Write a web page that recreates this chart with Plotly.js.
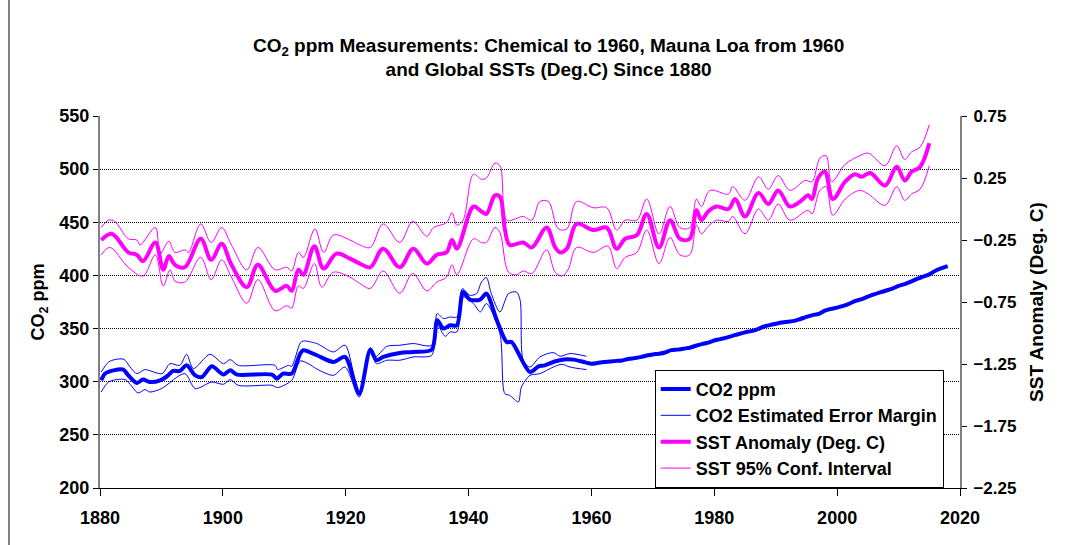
<!DOCTYPE html>
<html>
<head>
<meta charset="utf-8">
<script src="https://cdn.plot.ly/plotly-3.0.1.min.js"></script>
<style>
html,body{margin:0;padding:0;background:#fff;}
#chart{width:1082px;height:545px;}
</style>
</head>
<body>
<div id="chart"></div>
<script>
// ---- CO2 chemical measurements (ppm), thick line ----
var co2ChemYears = [1880.2,1880.8,1882.2,1883.8,1884.6,1886.0,1887.0,1888.1,1889.8,1891.1,
  1891.9,1893.0,1894.1,1895.5,1896.6,1898.2,1900.1,1901.2,1902.3,1908.0,
  1908.8,1909.8,1911.2,1912.6,1913.1,1915.3,1918.0,1919.9,1922.2,1924.0,
  1925.0,1926.1,1928.8,1931.0,1934.0,1934.9,1935.9,1937.0,1938.1,1939.1,
  1940.2,1941.9,1942.9,1944.6,1946.2,1947.0,1950.0,1951.4,1952.4,1954.0,
  1955.5,1957.1,1959.0];
var co2Chem = [301.3,307.6,310.7,311.4,306.0,298.8,302.0,299.7,301.3,306.0,
  310.1,310.1,315.4,306.0,304.4,314.5,306.7,310.7,306.7,306.7,
  302.9,307.6,307.6,326.5,329.6,324.9,318.6,323.3,288.8,330.2,
  320.2,323.3,327.0,328.0,330.2,357.8,350.0,353.1,353.1,384.4,
  377.3,377.3,382.9,357.8,337.4,337.4,309.1,314.5,315.4,319.0,
  321.0,320.8,318.2];

// ---- CO2 Mauna Loa (ppm) ----
var co2MLYears = [1960,1961,1962,1963,1964,1965,1966,1967,1968,1969,
  1970,1971,1972,1973,1974,1975,1976,1977,1978,1979,
  1980,1981,1982,1983,1984,1985,1986,1987,1988,1989,
  1990,1991,1992,1993,1994,1995,1996,1997,1998,1999,
  2000,2001,2002,2003,2004,2005,2006,2007,2008,2009,
  2010,2011,2012,2013,2014,2015,2016,2017,2018];
var co2ML = [316.9,317.6,318.5,319.0,319.6,320.0,321.4,322.2,323.1,324.6,
  325.7,326.3,327.5,329.7,330.2,331.1,332.0,333.8,335.4,336.8,
  338.8,340.1,341.5,343.2,344.9,346.4,347.6,349.3,351.7,353.2,
  354.5,355.7,356.5,357.2,359.0,361.0,362.7,363.9,366.8,368.5,
  369.7,371.3,373.5,376.0,377.7,380.0,382.1,384.0,385.8,387.6,
  390.1,391.9,394.1,396.7,398.8,401.0,404.4,406.8,408.7];

// ---- CO2 estimated error margin (ppm) ----
var co2UpYears = [1880.2,1881.4,1882.4,1883.9,1884.9,1886.0,1887.3,1890.1,1891.4,1893.0,
  1894.1,1895.2,1897.9,1900.1,1901.2,1902.5,1908.5,1908.9,1910.7,1911.2,
  1912.6,1913.1,1915.3,1918.0,1919.9,1922.2,1924.0,1924.8,1926.7,1928.8,
  1931.0,1934.0,1934.9,1935.9,1937.0,1938.1,1939.0,1940.2,1941.3,1942.1,
  1942.9,1943.7,1945.1,1946.5,1947.8,1948.4,1948.9,1950.0,1951.6,1953.8,
  1954.9,1956.5,1959.2];
var co2Up = [309.1,318.6,320.8,321.1,313.8,307.6,311.4,307.6,317.0,315.4,
  325.8,312.3,325.8,317.0,320.8,315.4,315.4,311.4,315.4,314.5,
  336.4,338.3,335.9,328.0,334.3,287.2,332.1,323.3,333.3,334.3,
  335.9,334.3,364.1,359.4,360.9,360.9,387.6,381.3,382.9,393.8,
  398.0,382.9,365.6,382.9,384.4,376.6,320.2,313.8,323.3,327.4,
  323.9,326.5,323.9];
var co2LoYears = [1880.2,1881.4,1884.1,1886.2,1887.3,1888.1,1890.0,1893.8,1895.5,1898.2,
  1900.1,1901.2,1902.5,1908.0,1908.9,1911.2,1912.6,1913.9,1915.3,1918.0,
  1919.9,1922.2,1924.0,1925.0,1926.7,1928.8,1931.0,1934.0,1934.9,1936.2,
  1937.0,1938.1,1939.1,1940.8,1941.9,1942.9,1945.1,1945.9,1946.7,1948.1,
  1948.6,1950.0,1951.6,1953.8,1955.2,1956.5,1959.2];
var co2Lo = [290.3,299.7,302.0,289.4,292.6,290.3,293.5,307.6,293.5,299.7,
  297.6,302.0,296.6,296.6,294.5,301.3,319.5,317.0,312.0,306.0,
  313.8,285.6,328.0,317.0,320.2,320.2,323.3,324.9,353.1,342.7,
  346.8,346.8,379.7,373.5,365.6,373.5,345.3,288.8,287.2,280.9,
  295.0,306.0,307.6,313.8,316.4,313.8,311.4];

// ---- Global SST anomaly (deg C) ----
var sstYears = [1880.2,1881.9,1884.6,1886.0,1887.0,1889.0,1890.3,1891.2,1892.2,1893.8,
  1896.4,1898.1,1899.8,1901.4,1903.9,1905.7,1908.5,1910.4,1911.2,1912.3,
  1913.1,1914.9,1916.4,1918.5,1920.7,1922.3,1924.0,1926.1,1928.8,1931.0,
  1933.2,1934.8,1936.4,1937.3,1938.1,1940.8,1942.1,1942.9,1944.3,1945.1,
  1945.9,1946.7,1948.9,1950.3,1952.7,1954.1,1954.9,1956.0,1957.6,1960.3,
  1962.5,1964.1,1965.5,1967.4,1969.0,1971.0,1972.8,1974.4,1976.0,1977.1,
  1977.9,1979.0,1980.4,1982.3,1983.4,1985.0,1987.2,1988.8,1990.4,1992.3,
  1994.0,1995.3,1995.9,1996.9,1998.0,1999.3,2001.3,2002.9,2004.0,2005.4,
  2007.8,2009.7,2011.0,2012.1,2013.5,2015.0];
var sst = [-0.25,-0.20,-0.35,-0.37,-0.42,-0.27,-0.49,-0.38,-0.45,-0.47,
  -0.24,-0.41,-0.28,-0.45,-0.63,-0.45,-0.66,-0.62,-0.66,-0.49,
  -0.53,-0.30,-0.48,-0.36,-0.40,-0.44,-0.47,-0.32,-0.47,-0.32,
  -0.44,-0.37,-0.35,-0.25,-0.32,0.02,-0.02,-0.04,0.11,0.10,
  -0.16,-0.29,-0.27,-0.31,-0.15,-0.31,-0.35,-0.32,-0.12,-0.17,
  -0.15,-0.32,-0.24,-0.21,-0.04,-0.31,-0.09,-0.24,-0.24,-0.01,
  -0.09,-0.02,0.02,0.00,0.08,-0.06,0.13,0.04,0.15,0.02,
  0.06,0.11,0.08,0.25,0.30,0.08,0.22,0.28,0.26,0.29,
  0.19,0.34,0.23,0.30,0.34,0.53];

// ---- SST 95% confidence interval (deg C) ----
var sstUpYears = [1880.2,1881.4,1882.4,1884.6,1886.0,1886.5,1889.0,1889.8,1891.2,1892.2,
  1893.8,1894.4,1896.4,1898.1,1899.8,1901.4,1903.9,1905.7,1908.5,1910.4,
  1911.2,1912.3,1913.1,1915.0,1916.4,1918.0,1920.7,1922.3,1924.0,1926.1,
  1928.8,1930.9,1933.2,1934.3,1936.4,1937.3,1938.1,1939.1,1940.8,1942.1,
  1942.9,1944.3,1945.1,1946.2,1947.6,1948.9,1950.3,1951.6,1953.0,1954.6,
  1956.0,1957.6,1960.3,1962.5,1964.1,1965.5,1967.4,1969.0,1971.0,1972.8,
  1974.4,1976.0,1977.1,1977.9,1979.3,1982.3,1983.0,1985.0,1987.2,1988.8,
  1990.4,1992.3,1994.8,1995.9,1997.2,1998.2,1999.1,2001.3,2003.7,2005.1,
  2007.8,2009.7,2011.0,2012.1,2013.5,2015.0];
var sstUp = [-0.15,-0.09,-0.10,-0.24,-0.25,-0.29,-0.15,-0.36,-0.26,-0.35,
  -0.33,-0.35,-0.12,-0.27,-0.15,-0.29,-0.49,-0.31,-0.49,-0.47,
  -0.50,-0.35,-0.39,-0.16,-0.35,-0.21,-0.25,-0.29,-0.31,-0.12,
  -0.27,-0.10,-0.22,-0.15,-0.11,-0.03,-0.13,-0.09,0.28,0.24,
  0.25,0.37,0.35,-0.09,-0.08,-0.06,-0.09,0.06,0.06,-0.16,
  -0.16,0.06,0.01,0.01,-0.17,-0.09,-0.09,0.08,-0.20,0.02,
  -0.15,-0.15,0.08,0.02,0.15,0.12,0.18,0.07,0.26,0.16,
  0.27,0.15,0.23,0.22,0.41,0.43,0.22,0.36,0.43,0.45,
  0.35,0.51,0.40,0.46,0.50,0.68];
var sstLoYears = [1880.2,1881.6,1884.6,1887.0,1889.0,1890.3,1891.4,1892.2,1893.8,1896.4,
  1898.1,1899.8,1901.4,1903.9,1905.7,1908.5,1910.4,1911.2,1912.3,1913.1,
  1914.9,1916.1,1918.0,1920.7,1922.3,1924.0,1926.1,1928.8,1930.9,1933.2,
  1934.8,1936.4,1937.3,1938.1,1940.8,1942.1,1942.9,1944.3,1945.1,1946.5,
  1947.8,1948.9,1950.3,1952.7,1954.1,1955.2,1956.2,1957.6,1960.3,1962.7,
  1964.1,1965.5,1967.4,1969.0,1971.0,1972.8,1974.4,1976.0,1977.1,1977.9,
  1979.0,1980.4,1982.3,1983.0,1985.0,1987.2,1988.8,1990.4,1992.3,1995.3,
  1995.9,1997.2,1998.2,1999.3,2001.3,2003.7,2005.1,2007.8,2009.7,2011.0,
  2012.1,2013.5,2015.0];
var sstLo = [-0.37,-0.31,-0.47,-0.54,-0.37,-0.62,-0.49,-0.58,-0.59,-0.39,
  -0.57,-0.41,-0.55,-0.76,-0.57,-0.82,-0.78,-0.80,-0.62,-0.64,
  -0.44,-0.63,-0.51,-0.55,-0.60,-0.64,-0.50,-0.68,-0.52,-0.66,
  -0.59,-0.55,-0.45,-0.53,-0.24,-0.27,-0.27,-0.15,-0.19,-0.51,
  -0.53,-0.50,-0.52,-0.33,-0.51,-0.54,-0.49,-0.31,-0.35,-0.30,
  -0.48,-0.39,-0.35,-0.17,-0.44,-0.23,-0.37,-0.37,-0.13,-0.20,
  -0.14,-0.09,-0.10,-0.06,-0.20,0.00,-0.09,0.04,-0.09,-0.01,
  -0.04,0.15,0.18,-0.05,0.08,0.15,0.12,0.03,0.18,0.07,
  0.12,0.16,0.35];

// ---- axis ticks ----
var xTicks = [1880,1900,1920,1940,1960,1980,2000,2020];
var yTicks = [200,250,300,350,400,450,500,550];
var y2Ticks = [-2.25,-1.75,-1.25,-0.75,-0.25,0.25,0.75];

var BLUE = '#0000FF', MAG = '#FF00FF';
var FONT = 'Liberation Sans, Arial, Helvetica, sans-serif';
var bold = function(sz){ return {family: FONT, size: sz, color: '#000', weight: 'bold'}; };

var traces = [
  {x: sstUpYears, y: sstUp, yaxis: 'y2', mode: 'lines', name: 'SST 95% Conf. Interval',
   legendgroup: 'sstci', legendrank: 4, line: {color: MAG, width: 1, shape: 'spline', smoothing: 1}},
  {x: sstLoYears, y: sstLo, yaxis: 'y2', mode: 'lines', name: 'SST 95% Conf. Interval',
   legendgroup: 'sstci', showlegend: false, line: {color: MAG, width: 1, shape: 'spline', smoothing: 1}},
  {x: sstYears, y: sst, yaxis: 'y2', mode: 'lines', name: 'SST Anomaly (Deg. C)',
   legendrank: 3, line: {color: MAG, width: 4, shape: 'spline', smoothing: 1}},
  {x: co2UpYears, y: co2Up, mode: 'lines', name: 'CO2 Estimated Error Margin',
   legendgroup: 'co2err', legendrank: 2, line: {color: BLUE, width: 1, shape: 'spline', smoothing: 0.8}},
  {x: co2LoYears, y: co2Lo, mode: 'lines', name: 'CO2 Estimated Error Margin',
   legendgroup: 'co2err', showlegend: false, line: {color: BLUE, width: 1, shape: 'spline', smoothing: 0.8}},
  {x: co2ChemYears.concat(co2MLYears), y: co2Chem.concat(co2ML), mode: 'lines', name: 'CO2 ppm',
   legendrank: 1, line: {color: BLUE, width: 4, shape: 'spline', smoothing: 0.8}}
];

var layout = {
  width: 1082, height: 545,
  paper_bgcolor: '#fff', plot_bgcolor: '#fff',
  margin: {l: 100, r: 122, t: 116, b: 57, pad: 0},
  showlegend: true,
  font: bold(18),
  title: {
    text: 'CO<sub>2</sub> ppm Measurements: Chemical to 1960, Mauna Loa from 1960<br>and Global SSTs (Deg.C) Since 1880',
    font: bold(19), x: 0.507, xanchor: 'center', xref: 'container',
    y: 0.905, yanchor: 'top', yref: 'container'
  },
  xaxis: {
    range: [1880, 2020], tickvals: xTicks, ticktext: xTicks.map(String),
    showgrid: false, zeroline: false, showline: true, linecolor: '#000', linewidth: 1,
    ticks: 'outside', ticklen: 7, tickcolor: '#000', tickfont: bold(18),
    ticklabelstandoff: 6
  },
  yaxis: {
    range: [200, 550], tickvals: yTicks,
    showgrid: true, gridcolor: '#000', gridwidth: 1, griddash: '1px,1px',
    zeroline: false, showline: true, linecolor: '#808080', linewidth: 2,
    ticks: 'outside', ticklen: 5, tickcolor: '#000', tickfont: bold(18),
    title: {text: 'CO<sub>2</sub> ppm', font: bold(18), standoff: 10}
  },
  yaxis2: {
    range: [-2.25, 0.75], tickvals: y2Ticks, tickformat: '.2f', overlaying: 'y', side: 'right',
    showgrid: false, zeroline: false, showline: true, linecolor: '#808080', linewidth: 2,
    ticks: 'outside', ticklen: 5, tickcolor: '#000', tickfont: bold(17),
    ticklabelstandoff: 3,
    title: {text: 'SST Anomaly (Deg. C)', font: bold(19), standoff: 14}
  },
  legend: {
    x: 0.645, y: 0.318, xanchor: 'left', yanchor: 'top',
    bgcolor: '#fff', bordercolor: '#000', borderwidth: 1,
    font: bold(18), traceorder: 'normal', itemwidth: 30
  },
  shapes: [
    {type: 'line', xref: 'paper', yref: 'paper', x0: -0.1058, x1: -0.1058, y0: -0.2, y1: 1.4,
     line: {color: '#000', width: 1}}
  ]
};

Plotly.newPlot('chart', traces, layout, {staticPlot: true, displayModeBar: false});
</script>
</body>
</html>
